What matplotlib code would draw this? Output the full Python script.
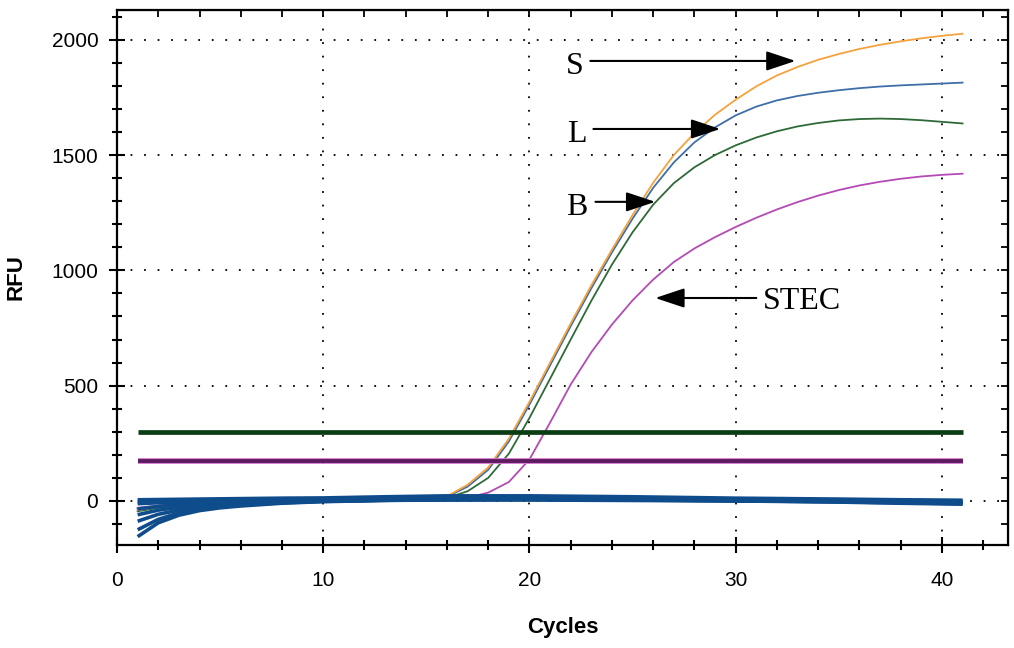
import matplotlib
matplotlib.use("Agg")
import matplotlib.pyplot as plt
from matplotlib.ticker import MultipleLocator

plt.rcParams['font.family'] = ['Liberation Sans', 'DejaVu Sans']

# amplification curves, one value per cycle (1..41)
cycles = list(range(1, 42))
s_rfu = [-40, -26, -16, -9, -4, -1, 1, 2, 3, 4, 4, 5, 5, 6, 9, 20, 70, 145, 270, 430,
         600, 770, 935, 1090, 1240, 1380, 1500, 1595, 1675, 1740, 1798, 1845, 1882,
         1913, 1938, 1960, 1978, 1993, 2006, 2017, 2026]
l_rfu = [-35, -22, -13, -7, -3, 0, 1, 2, 3, 3, 4, 4, 5, 5, 8, 18, 62, 135, 258, 418,
         588, 758, 922, 1078, 1224, 1358, 1468, 1555, 1620, 1672, 1710, 1737, 1756,
         1770, 1781, 1790, 1797, 1802, 1806, 1810, 1814]
b_rfu = [-45, -30, -19, -11, -6, -2, 0, 1, 2, 3, 3, 4, 4, 5, 6, 13, 42, 100, 205, 360,
         530, 700, 868, 1025, 1165, 1285, 1378, 1447, 1500, 1542, 1576, 1603, 1624,
         1639, 1650, 1656, 1658, 1656, 1651, 1644, 1637]
stec_rfu = [-30, -20, -12, -7, -3, -1, 0, 1, 2, 2, 3, 3, 3, 4, 4, 6, 14, 36, 82, 180,
            340, 505, 645, 765, 870, 960, 1036, 1095, 1144, 1188, 1228, 1264, 1296,
            1324, 1348, 1368, 1384, 1397, 1407, 1414, 1419]

# negative / baseline wells
base_cycles = [1, 2, 3, 4, 5, 6, 8, 10, 13, 16, 20, 25, 30, 35, 38, 41]
baselines = [
    [-155, -95, -62, -42, -30, -22, -10, -3, 2, 5, 6, 4, 0, -5, -10, -14],
    [-125, -80, -52, -36, -25, -18, -8, -2, 3, 6, 8, 5, 1, -4, -8, -12],
    [-88, -58, -40, -28, -20, -14, -6, -1, 4, 8, 10, 7, 2, -2, -6, -10],
    [-60, -40, -28, -20, -14, -10, -4, 0, 6, 10, 12, 9, 4, 0, -4, -7],
    [-35, -24, -17, -12, -8, -5, -1, 2, 8, 12, 14, 10, 6, 2, -1, -4],
    [-12, -8, -5, -3, -1, 0, 2, 4, 10, 14, 16, 12, 8, 4, 2, 0],
    [5, 6, 7, 8, 9, 10, 12, 13, 18, 22, 22, 18, 12, 8, 5, 3],
    [-5, -4, -3, -2, -1, 0, 0, 1, 3, 4, 4, 2, 0, -2, -4, -6],
]

thresh_green = 300
thresh_purple = 175

fig = plt.figure(figsize=(10.14, 6.48), dpi=100)
ax = fig.add_axes([0.1154, 0.159, 0.8786, 0.8256])

ax.plot(cycles, stec_rfu, color='#b44ab4', lw=1.3)
ax.plot(cycles, b_rfu, color='#2e6a38', lw=1.3)
ax.plot(cycles, l_rfu, color='#3e6fa8', lw=1.3)
ax.plot(cycles, s_rfu, color='#f5a23c', lw=1.3)

for b in baselines:
    ax.plot(base_cycles, b, color='#0e4c8c', lw=2.6, solid_capstyle='butt')

# threshold lines
ax.plot([1, 41], [thresh_green, thresh_green], color='#0a3d14', lw=3.4, solid_capstyle='butt')
ax.plot([1, 41], [thresh_purple, thresh_purple], color='#d47ad4', lw=4.2, solid_capstyle='butt')
ax.plot([1, 41], [thresh_purple, thresh_purple], color='#5e1c5e', lw=2.8, solid_capstyle='butt')

ax.set_xlim(0, 43.2)
ax.set_ylim(-191, 2129)
ax.xaxis.set_major_locator(MultipleLocator(10))
ax.xaxis.set_minor_locator(MultipleLocator(2))
ax.yaxis.set_major_locator(MultipleLocator(500))
ax.yaxis.set_minor_locator(MultipleLocator(100))
ax.grid(True, which='major', color='black', linestyle=(0, (1, 6.5)), lw=1.3)
ax.set_axisbelow(True)

ax.tick_params(which='major', direction='inout', length=11, width=1.5, labelsize=15,
               colors='black')
ax.tick_params(axis='x', which='major', pad=13)
ax.tick_params(axis='y', which='major', pad=8)
ax.tick_params(which='minor', direction='inout', length=7, width=1.5)
for sp in ax.spines.values():
    sp.set_linewidth(1.6)

top = ax.secondary_xaxis('top')
top.xaxis.set_major_locator(MultipleLocator(10))
top.xaxis.set_minor_locator(MultipleLocator(2))
top.tick_params(which='both', direction='in', length=5, width=1.3, labeltop=False)
right = ax.secondary_yaxis('right')
right.yaxis.set_major_locator(MultipleLocator(500))
right.yaxis.set_minor_locator(MultipleLocator(100))
right.tick_params(which='both', direction='in', length=5, width=1.3, labelright=False)

ax.set_xlabel('Cycles', fontsize=16, fontweight='bold', labelpad=20)
ax.set_ylabel('RFU', fontsize=16, fontweight='bold', labelpad=18)

# labels with arrows
arrow = dict(arrowstyle='-|>,head_length=0.9,head_width=0.3', color='black', lw=1.5,
             mutation_scale=20, shrinkA=0, shrinkB=0)
serif = dict(family='Liberation Serif', fontsize=23, ha='center', va='center')
ax.text(22.2, 1886, 'S', **serif)
ax.annotate('', xy=(32.9, 1908), xytext=(22.95, 1908), arrowprops=arrow)
ax.text(22.3, 1591, 'L', **serif)
ax.annotate('', xy=(29.25, 1613), xytext=(23.1, 1613), arrowprops=arrow)
ax.text(22.3, 1271, 'B', **serif)
ax.annotate('', xy=(26.1, 1297), xytext=(23.2, 1297), arrowprops=arrow)
ax.text(33.2, 863, 'STEC', **serif)
ax.annotate('', xy=(26.1, 880), xytext=(31.0, 880), arrowprops=arrow)

fig.savefig('out.png', dpi=100)
